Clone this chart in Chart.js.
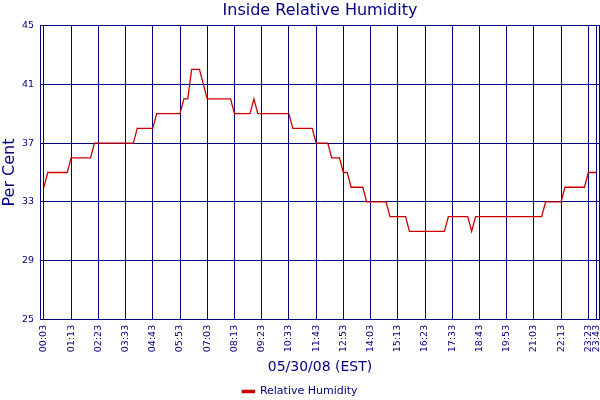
<!DOCTYPE html>
<html>
<head>
<meta charset="utf-8">
<script src="https://cdn.jsdelivr.net/npm/chart.js@4.4.1/dist/chart.umd.min.js"></script>
<style>
  html, body { margin: 0; padding: 0; background: #fff; }
  #wrap { width: 600px; height: 400px; }
</style>
</head>
<body>
<div id="wrap"><canvas id="grafica"></canvas></div>
<script>
// times where the reading changes, and the reading there
const horas = [
    "00:03", "00:13", "01:03", "01:13", "02:03", "02:13", "03:53", "04:03",
    "04:43", "04:53", "05:53", "06:03", "06:13", "06:23", "06:43", "06:53",
    "07:03", "08:03", "08:13", "08:53", "09:03", "09:13", "10:33", "10:43",
    "11:33", "11:43", "12:13", "12:23", "12:43", "12:53", "13:03", "13:13",
    "13:43", "13:53", "14:43", "14:53", "15:33", "15:43", "17:13", "17:23",
    "18:13", "18:23", "18:33", "21:23", "21:33", "22:13", "22:23", "23:13",
    "23:23", "23:43"
];
const humedad = [
    34, 35, 35, 36, 36, 37, 37, 38,
    38, 39, 39, 40, 40, 42, 42, 41,
    40, 40, 39, 39, 40, 39, 39, 38,
    38, 37, 37, 36, 36, 35, 35, 34,
    34, 33, 33, 32, 32, 31, 31, 32,
    32, 31, 32, 32, 33, 33, 34, 34,
    35, 35
];
const marcas = [
    "00:03", "01:13", "02:23", "03:33", "04:43", "05:53", "07:03", "08:13",
    "09:23", "10:33", "11:43", "12:53", "14:03", "15:13", "16:23", "17:33",
    "18:43", "19:53", "21:03", "22:13", "23:23", "23:43"
];
const marcasY = [25, 29, 33, 37, 41, 45];

const azul = "#000080";

function aMinutos(h) {
    const p = h.split(":");
    return Number(p[0]) * 60 + Number(p[1]);
}
function aHora(m) {
    const hh = Math.floor(m / 60), mm = m % 60;
    return String(hh).padStart(2, "0") + ":" + String(mm).padStart(2, "0");
}

// frame around the plot area (right side has no axis)
const borde = {
    id: "borde",
    beforeDatasetsDraw(chart) {
        const a = chart.chartArea, ctx = chart.ctx;
        ctx.save();
        ctx.strokeStyle = azul;
        ctx.lineWidth = 1;
        ctx.beginPath();
        ctx.moveTo(Math.round(a.left), Math.round(a.top) + 0.5);
        ctx.lineTo(Math.round(a.right) - 0.5, Math.round(a.top) + 0.5);
        ctx.lineTo(Math.round(a.right) - 0.5, Math.round(a.bottom));
        ctx.stroke();
        ctx.restore();
    }
};

Chart.defaults.font.family = "'DejaVu Sans', Verdana, sans-serif";
Chart.defaults.color = azul;

new Chart(document.getElementById("grafica").getContext("2d"), {
    type: "line",
    data: {
        datasets: [{
            label: "Relative Humidity",
            data: horas.map((h, i) => ({ x: aMinutos(h), y: humedad[i] })),
            borderColor: "#cc0000",
            backgroundColor: "#cc0000",
            borderWidth: 1.3,
            pointRadius: 0,
            tension: 0,
            fill: false
        }]
    },
    options: {
        responsive: true,
        maintainAspectRatio: false,
        animation: false,
        layout: { padding: { left: 0, right: 0, top: 0, bottom: -7 } },
        plugins: {
            title: {
                display: true,
                text: "Inside Relative Humidity",
                color: azul,
                fullSize: false,
                font: { size: 16, weight: "normal" },
                padding: { top: 1, bottom: 5 }
            },
            legend: {
                position: "bottom",
                labels: { color: azul, font: { size: 11 }, boxWidth: 12, boxHeight: 2, padding: 4 }
            },
            tooltip: { enabled: false }
        },
        scales: {
            x: {
                type: "linear",
                min: -7,
                max: 1433,
                afterBuildTicks: s => { s.ticks = marcas.map(h => ({ value: aMinutos(h) })); },
                afterFit: s => { s.paddingLeft = 0; s.paddingRight = 0; },
                ticks: {
                    autoSkip: false,
                    minRotation: 90,
                    maxRotation: 90,
                    padding: 5,
                    color: azul,
                    font: { size: 9.5 },
                    callback: v => aHora(v)
                },
                grid: { color: azul, drawTicks: false, lineWidth: 1 },
                border: { color: azul },
                title: {
                    display: true,
                    text: "05/30/08 (EST)",
                    color: azul,
                    font: { size: 14 },
                    padding: { top: 2, bottom: 6 }
                }
            },
            y: {
                min: 25,
                max: 45,
                afterBuildTicks: s => { s.ticks = marcasY.map(v => ({ value: v })); },
                afterFit: s => { s.width = 40; },
                ticks: { padding: 6, color: azul, font: { size: 9.5 } },
                grid: { color: azul, drawTicks: false, lineWidth: 1 },
                border: { color: azul },
                title: {
                    display: true,
                    text: "Per Cent",
                    color: azul,
                    font: { size: 16 },
                    padding: { top: 0, bottom: 1 }
                }
            }
        }
    },
    plugins: [borde]
});
</script>
</body>
</html>
